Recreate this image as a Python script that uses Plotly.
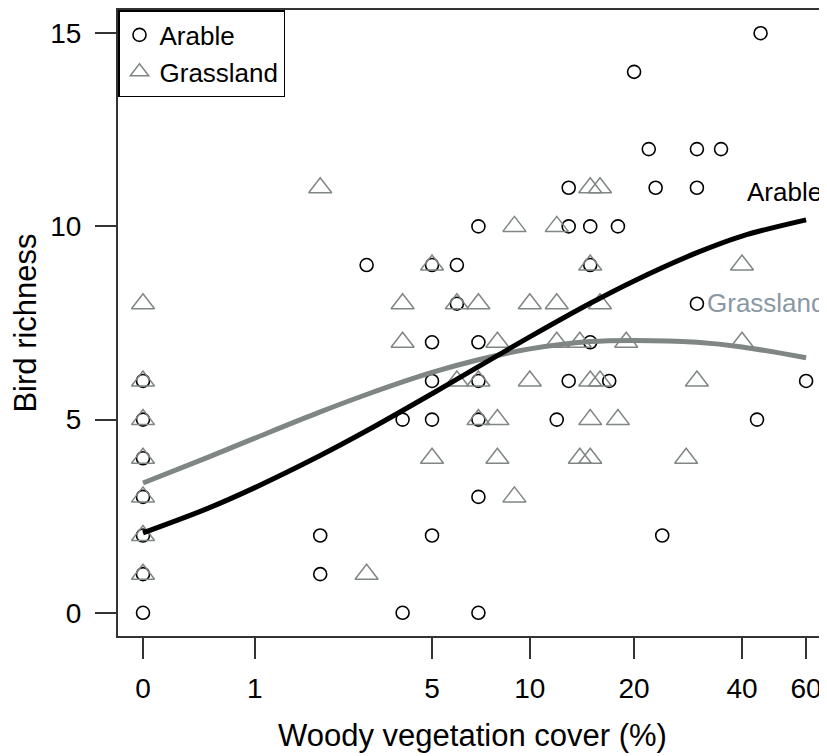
import math
import plotly.graph_objects as go

# ---- data ----
arable_cover = [0, 0, 0, 0, 0, 0, 0, 2, 2, 3, 4, 4, 5, 5, 5, 5, 5, 6, 6,
                7, 7, 7, 7, 7, 7, 12, 13, 13, 13, 15, 15, 15, 17, 18, 20, 22,
                23, 24, 30, 30, 30, 35, 44, 45, 60]
arable_rich = [0, 1, 2, 3, 4, 5, 6, 2, 1, 9, 5, 0, 9, 7, 6, 5, 2, 9, 8,
               10, 7, 6, 5, 3, 0, 5, 11, 10, 6, 10, 9, 7, 6, 10, 14, 12,
               11, 2, 12, 11, 8, 12, 5, 15, 6]

grass_cover = [0, 0, 0, 0, 0, 0, 0, 2, 3, 4, 4, 5, 5, 6, 6, 7, 7, 7, 8, 8, 8,
               9, 9, 10, 10, 12, 12, 12, 14, 14, 15, 15, 15, 15, 15, 16, 16,
               16, 18, 19, 28, 30, 40, 40]
grass_rich = [1, 2, 3, 4, 5, 6, 8, 11, 1, 8, 7, 9, 4, 8, 6, 8, 6, 5, 7, 5, 4,
              10, 3, 8, 6, 10, 8, 7, 7, 4, 11, 9, 6, 5, 4, 11, 8, 6, 5, 7, 4,
              6, 9, 7]

fit_cover = [0, 0.5, 1, 2, 3, 5, 7, 10, 15, 20, 30, 40, 60]
arable_fit = [2.07, 2.71, 3.24, 4.07, 4.71, 5.67, 6.37, 7.14, 8.01, 8.59, 9.32, 9.75, 10.17]
grass_fit = [3.36, 4.03, 4.52, 5.20, 5.65, 6.22, 6.55, 6.83, 7.02, 7.05, 7.00, 6.88, 6.60]

x_tick_values = [0, 1, 5, 10, 20, 40, 60]
x_tick_labels = ["0", "1", "5", "10", "20", "40", "60"]
y_tick_values = [0, 5, 10, 15]

GRAY = "#7f8683"
FONT = "Liberation Sans, Arial, sans-serif"
FS = 26
TICK_FS = 28


def shift(v):
    return [c + 1 for c in v]


fig = go.Figure()
fig.add_trace(go.Scatter(
    x=shift(arable_cover), y=arable_rich, mode="markers", name="Arable",
    marker=dict(symbol="circle-open", size=13, color="black",
                line=dict(width=1.6, color="black"))))
fig.add_trace(go.Scatter(
    x=shift(grass_cover), y=grass_rich, mode="markers", name="Grassland",
    marker=dict(symbol="triangle-up-open", size=20, color=GRAY,
                line=dict(width=1.5, color=GRAY))))
fig.add_trace(go.Scatter(
    x=shift(fit_cover), y=grass_fit, mode="lines", showlegend=False,
    line=dict(color=GRAY, width=5, shape="spline")))
fig.add_trace(go.Scatter(
    x=shift(fit_cover), y=arable_fit, mode="lines", showlegend=False,
    line=dict(color="black", width=5, shape="spline")))

fig.add_annotation(x=math.log10(53.2), y=10.89, text="Arable", showarrow=False,
                   font=dict(size=FS, color="black", family=FONT),
                   xanchor="center", yanchor="middle")
fig.add_annotation(x=math.log10(47.6), y=8.02, text="Grassland", showarrow=False,
                   font=dict(size=FS, color="#8a98a4", family=FONT),
                   xanchor="center", yanchor="middle")

# the page adds an 8px body margin, so the figure is laid out 8px smaller
fig.update_layout(
    width=819, height=748,
    margin=dict(l=110, r=0, t=2, b=120),
    paper_bgcolor="white", plot_bgcolor="white",
    font=dict(family=FONT, size=FS, color="black"),
    showlegend=True,
    legend=dict(x=0, y=1, xanchor="left", yanchor="top",
                bordercolor="black", borderwidth=1.5, bgcolor="white",
                font=dict(size=FS, family=FONT), itemwidth=30,
                tracegroupgap=0),
)
fig.update_xaxes(
    type="log", range=[-0.0673, 1.8416],
    tickmode="array", tickvals=shift(x_tick_values), ticktext=x_tick_labels,
    tickfont=dict(size=TICK_FS),
    ticks="outside", ticklen=21, tickwidth=2, tickcolor="#333",
    showline=True, linecolor="#333", linewidth=2, mirror=True,
    showgrid=False, zeroline=False,
    title=dict(text="Woody vegetation cover (%)", standoff=22),
    ticklabelstandoff=5, automargin=False,
)
fig.update_yaxes(
    range=[-0.6, 15.6], tickmode="array", tickvals=y_tick_values,
    tickfont=dict(size=TICK_FS),
    ticks="outside", ticklen=21, tickwidth=2, tickcolor="#333",
    showline=True, linecolor="#333", linewidth=2, mirror=False,
    showgrid=False, zeroline=False,
    title=dict(text="Bird richness", standoff=13),
    ticklabelstandoff=8, automargin=False,
)

fig.write_html("out.html")
